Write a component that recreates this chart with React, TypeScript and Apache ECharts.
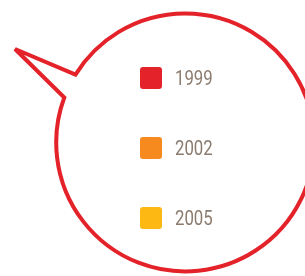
import React, { useEffect, useRef } from "react";
import * as echarts from "echarts";

const years = ["1999", "2002", "2005"];
const yearColors = ["#e42229", "#f68a1f", "#fdb814"];

const bubblePath =
  "M 75.5 74.6 L 15 49 L 64.3 97.5 A 129 129 0 1 0 75.5 74.6 Z";

export default function App() {
  const ref = useRef<HTMLDivElement>(null);
  useEffect(() => {
    if (!ref.current) return;
    echarts.graphic.registerShape("bubble", echarts.graphic.extendPath(bubblePath, {}) as any);
    const chart = echarts.init(ref.current, null, { renderer: "svg" });
    const labels = years.map((y, i) => ({
      type: "text",
      x: 175,
      y: 78 + i * 70,
      scaleX: 0.8,
      z: 10,
      style: {
        text: y,
        fill: "#8b7b6f",
        fontSize: 21,
        fontFamily: "Roboto, sans-serif",
        textVerticalAlign: "middle",
        verticalAlign: "middle",
        align: "left",
      },
    }));
    chart.setOption({
      animation: false,
      grid: { show: false, left: 0, right: 0, top: 0, bottom: 0 },
      xAxis: { type: "category", show: false, data: [] },
      yAxis: { type: "value", show: false },
      graphic: [
        {
          type: "bubble",
          x: 0,
          y: 0,
          z: 0,
          style: { fill: "#ffffff", stroke: "#e42229", lineWidth: 4, lineJoin: "miter" },
        },
        ...labels,
      ],
      legend: {
        orient: "vertical",
        left: 140,
        top: 67,
        padding: 0,
        itemWidth: 22,
        itemHeight: 22,
        itemGap: 48,
        icon: "path://M3,0h16a3,3 0 0 1 3,3v16a3,3 0 0 1 -3,3h-16a3,3 0 0 1 -3,-3v-16a3,3 0 0 1 3,-3z",
        formatter: () => "",
        selectedMode: false,
        data: years,
      },
      series: years.map((y, i) => ({
        type: "bar",
        name: y,
        data: [],
        itemStyle: { color: yearColors[i] },
      })),
    });
    return () => chart.dispose();
  }, []);
  return (
    <div
      ref={ref}
      style={{ position: "fixed", left: 0, top: 0, width: 305, height: 276 }}
    />
  );
}
